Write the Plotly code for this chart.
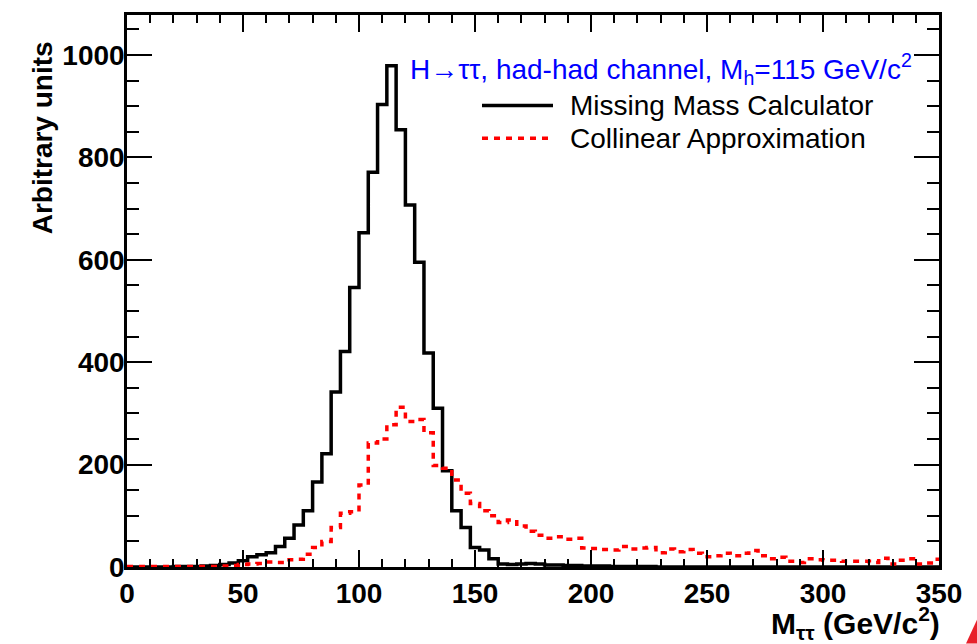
import plotly.graph_objects as go

# ---------------- data (4 GeV bins starting at 0) ----------------
bin_width = 4
mmc_counts = [0, 0, 0, 0, 0, 1, 1, 1, 2, 3,
              5, 8, 12, 20, 24, 28, 40, 56, 82, 110,
              166, 221, 342, 421, 546, 653, 771, 903, 979, 854,
              707, 595, 418, 310, 188, 110, 77, 38, 33, 16,
              6, 5, 6, 7, 6, 4, 4, 3, 3, 2,
              2, 2, 1, 1, 1, 1, 1, 0, 0, 0,
              0, 0, 0, 0, 0, 0, 0, 0, 0, 0,
              0, 0, 0, 0, 0, 0, 0, 0, 0, 0,
              0, 0, 0, 0, 0, 0, 0, 0]
col_counts = [1, 1, 1, 1, 1, 1, 1, 1, 1, 1,
              2, 3, 5, 6, 7, 10, 9, 14, 15, 25,
              38, 50, 77, 105, 108, 160, 242, 250, 278, 312,
              284, 288, 262, 198, 193, 170, 144, 124, 110, 100,
              87, 92, 80, 70, 62, 56, 59, 54, 56, 37,
              36, 34, 33, 40, 35, 37, 38, 28, 35, 30,
              34, 27, 20, 22, 27, 22, 27, 32, 22, 16,
              19, 11, 9, 16, 14, 13, 13, 11, 11, 11,
              9, 17, 6, 13, 16, 6, 8, 15]
x_ticks = [0, 50, 100, 150, 200, 250, 300, 350]
y_ticks = [0, 200, 400, 600, 800, 1000]
legend_labels = ["Missing Mass Calculator", "Collinear Approximation"]
header_text = "H→ττ, had-had channel, M<sub>h</sub>=115 GeV/c<sup>2</sup>"

edges = [i * bin_width for i in range(len(mmc_counts) + 1)]

# ---------------- layout geometry (pixels) ----------------
W, H = 977, 644
L, R, T, B = 127, 38, 12, 77
PW, PH = W - L - R, H - T - B


def px(x):
    return (x - L) / PW


def py(y):
    return (H - B - y) / PH


FONT = "Liberation Sans, Arial, Helvetica, sans-serif"

fig = go.Figure()
fig.add_trace(go.Scatter(x=edges, y=mmc_counts + [mmc_counts[-1]], mode="lines",
                         line=dict(color="black", width=3.5, shape="hv"),
                         showlegend=False))
fig.add_trace(go.Scatter(x=edges, y=col_counts + [col_counts[-1]], mode="lines",
                         line=dict(color="#ff0000", width=3.5, shape="hv", dash="6px,6px"),
                         showlegend=False))

axis_common = dict(showline=True, linecolor="black", linewidth=2.5, mirror="ticks",
                   ticks="inside", tickcolor="black", tickwidth=2,
                   showgrid=False, zeroline=False,
                   tickfont=dict(family=FONT, size=28, color="black", weight="bold"))

fig.update_xaxes(range=[0, 350], tickvals=x_ticks, ticklen=17,
                 minor=dict(dtick=10, ticks="inside", ticklen=8, tickcolor="black", tickwidth=1.5),
                 **axis_common)
fig.update_yaxes(range=[0, 1078], tickvals=y_ticks, ticklen=25, ticklabelstandoff=-6,
                 minor=dict(dtick=50, ticks="inside", ticklen=12, tickcolor="black", tickwidth=1.5),
                 **axis_common)

annotations = [
    dict(text="<b>Arbitrary units</b>", x=px(42), y=py(136), textangle=-90,
         xanchor="center", yanchor="middle", font=dict(family=FONT, size=28, color="black")),
    dict(text="<b>M<sub>ττ</sub> (GeV/c<sup>2</sup>)</b>", x=px(942), y=py(623),
         xanchor="right", yanchor="middle", font=dict(family=FONT, size=30, color="black")),
    dict(text=header_text, x=px(408), y=py(66), xanchor="left", yanchor="middle",
         font=dict(family=FONT, size=28, color="#0000ff")),
    dict(text=legend_labels[0], x=px(568), y=py(103), xanchor="left", yanchor="middle",
         font=dict(family=FONT, size=28, color="black")),
    dict(text=legend_labels[1], x=px(568), y=py(136), xanchor="left", yanchor="middle",
         font=dict(family=FONT, size=28, color="black")),
]
for a in annotations:
    a.update(xref="paper", yref="paper", showarrow=False)

shapes = [
    dict(type="line", x0=px(482), x1=px(553), y0=py(103), y1=py(103),
         line=dict(color="black", width=3.5)),
    dict(type="line", x0=px(482), x1=px(553), y0=py(136), y1=py(136),
         line=dict(color="#ff0000", width=3.5, dash="6px,6px")),
    dict(type="path",
         path=f"M {px(966)} {py(644)} L {px(977)} {py(620)} L {px(977)} {py(644)} Z",
         fillcolor="#e8202a", line=dict(width=0)),
]
for s in shapes:
    s.update(xref="paper", yref="paper")

fig.update_layout(width=W, height=H, margin=dict(l=L, r=R, t=T, b=B),
                  paper_bgcolor="white", plot_bgcolor="white",
                  annotations=annotations, shapes=shapes)

fig.write_html("out.html")
